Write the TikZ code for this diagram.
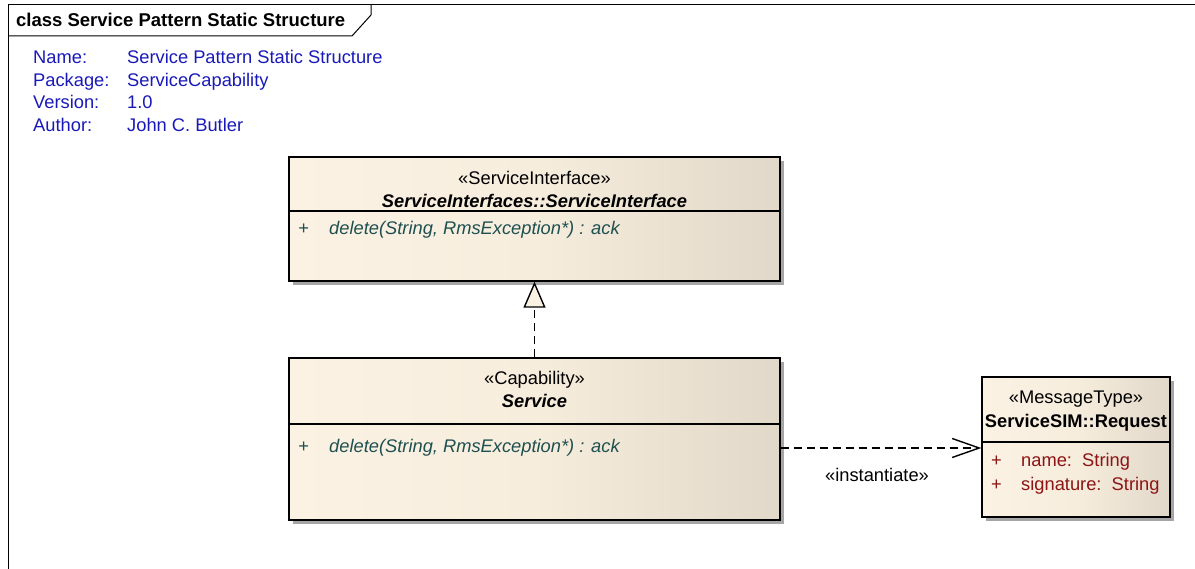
\documentclass[tikz,border=0pt]{standalone}
\usepackage{fontspec}
\setmainfont{Liberation Sans}
\usetikzlibrary{arrows.meta,shadows}
\definecolor{infoblue}{RGB}{25,25,185}
\definecolor{opteal}{RGB}{30,80,80}
\definecolor{attrred}{RGB}{140,20,20}
\definecolor{creamL}{RGB}{251,242,228}
\definecolor{creamM}{RGB}{247,237,221}
\definecolor{creamR}{RGB}{226,216,201}
\tikzset{
  umlbox/.style={draw=black, line width=1.4pt, inner sep=0pt, left color=creamL, right color=creamR, middle color=creamM,
    drop shadow={shadow xshift=4pt, shadow yshift=-4pt, fill=black!35, opacity=1}},
  txt/.style={inner sep=0pt, font=\fontsize{18.3}{21}\selectfont},
  info/.style={txt, text=infoblue, anchor=base west},
  ster/.style={txt, anchor=base},
  cname/.style={txt, anchor=base, font=\fontsize{18.3}{21}\selectfont\bfseries\itshape},
  opt/.style={txt, text=opteal, anchor=base west, font=\fontsize{18.3}{21}\selectfont\itshape},
  attr/.style={txt, text=attrred, anchor=base west},
  dep/.style={line width=1.6pt, dash pattern=on 8pt off 5pt},
}
\begin{document}
\begin{tikzpicture}[x=1pt,y=-1pt]
\useasboundingbox (0,0) rectangle (1195,569);
% frame
\draw[line width=1pt] (8,575) -- (8,5) -- (1200,5);
\draw[line width=1pt] (8,36) -- (352,36) -- (371,15) -- (371,5);
\node[txt, anchor=base west, font=\fontsize{18.5}{21}\selectfont\bfseries] (title) at (16,27) {class Service Pattern Static Structure};
% info
\node[info] (n1) at (33,64) {Name:};
\node[info] (n2) at (33,87) {Package:};
\node[info] (n3) at (33,109) {Version:};
\node[info] (n4) at (33,132) {Author:};
\node[info] (v1) at (127,64) {Service Pattern Static Structure};
\node[info] (v2) at (127,87) {ServiceCapability};
\node[info] (v3) at (127,109) {1.0};
\node[info] (v4) at (127,132) {John C. Butler};
% box 1
\node[umlbox, minimum width=491pt, minimum height=124pt] (si) at (534.5,219) {};
\draw[line width=1.4pt] (289,211) -- (780,211);
\node[ster] (si1) at (534.5,185) {«ServiceInterface»};
\node[cname] (si2) at (534.5,208) {ServiceInterfaces::ServiceInterface};
\node[opt] (sip) at (298,235) {+};
\node[opt] (siop) at (329,235) {delete(String, RmsException*) : ack};
% box 2
\node[umlbox, minimum width=491pt, minimum height=162pt] (svc) at (534.5,439) {};
\draw[line width=1.4pt] (289,424) -- (780,424);
\node[ster] (sv1) at (534.5,385) {«Capability»};
\node[cname] (sv2) at (534.5,408) {Service};
\node[opt] (svp) at (298,453) {+};
\node[opt] (svop) at (329,453) {delete(String, RmsException*) : ack};
% box 3
\node[umlbox, minimum width=188pt, minimum height=140pt] (req) at (1076,447) {};
\draw[line width=1.4pt] (982,442) -- (1170,442);
\node[ster] (rq1) at (1076,404) {«MessageType»};
\node[txt, anchor=base, font=\fontsize{18.3}{21}\selectfont\bfseries] (rq2) at (1076,428) {ServiceSIM::Request};
\node[attr] (rqp1) at (991,467) {+};
\node[attr] (rqa1) at (1021,467) {name:\ \ String};
\node[attr] (rqp2) at (991,490) {+};
\node[attr] (rqa2) at (1021,490) {signature:\ \ String};
% connectors
\draw[dep, -{Triangle[open, fill=creamL, length=26pt, width=22pt, line width=1.4pt]}] (svc.north) -- (si.south);
\coordinate (dy) at (0,448);
\draw[dep, -{Straight Barb[length=27pt, width=19pt, line width=1.4pt]}] (svc.east |- dy) -- (req.west |- dy);
\node[ster] (inst) at (877,482) {«instantiate»};
\end{tikzpicture}
\end{document}
